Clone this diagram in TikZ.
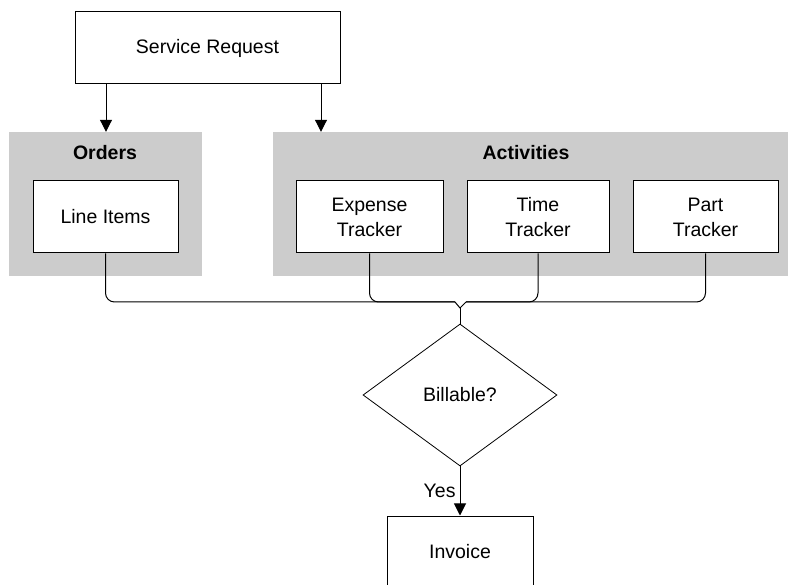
\documentclass[tikz,border=0pt]{standalone}
\usepackage{fontspec}
\setmainfont{Liberation Sans}
\usetikzlibrary{shapes.geometric,arrows.meta}
\definecolor{panelgray}{RGB}{204,204,204}
\tikzset{
  box/.style={draw=black,line width=1pt,fill=white,rectangle,inner sep=0pt,
    minimum height=72pt,align=center,font=\fontsize{19.5}{25}\selectfont},
  panel/.style={fill=panelgray,draw=none,rectangle,inner sep=0pt},
  paneltitle/.style={font=\fontsize{19.5}{25}\selectfont\bfseries,inner sep=0pt},
  decision/.style={draw=black,line width=0.8pt,diamond,inner sep=0pt,
    minimum width=194pt,minimum height=142pt,font=\fontsize{19.5}{25}\selectfont},
  link/.style={draw=black,line width=1pt},
  arr/.style={link,-{Triangle[length=12pt,width=12pt]}},
  bracelink/.style={link,rounded corners=9pt}
}
\begin{document}
\begin{tikzpicture}[x=1pt,y=-1pt]
\useasboundingbox (0,0) rectangle (788,585);
\clip (0,0) rectangle (788,585);

% grouping panels
\node[panel,minimum width=193pt,minimum height=144pt] (ord) at (105.5,204) {};
\node[panel,minimum width=515pt,minimum height=144pt] (act) at (530.5,204) {};
\node[paneltitle] (ordtitle) at (105,153) {Orders};
\node[paneltitle] (acttitle) at (526,153) {Activities};

% boxes
\node[box,minimum width=265pt] (sr) at (207.5,48) {Service Request};
\node[box,minimum width=145pt] (li) at (105.5,217) {Line Items};
\node[box,minimum width=147pt] (et) at (369.5,217) {Expense\\Tracker};
\node[box,minimum width=142pt] (tt) at (538,217) {Time\\Tracker};
\node[box,minimum width=145pt] (pt) at (705.5,217) {Part\\Tracker};
\node[decision] (bill) at (460,395) {Billable?};
\node[box,minimum width=146pt] (inv) at (460,552) {Invoice};

% request feeds both groups
\draw[arr] ([xshift=-101.5pt]sr.south) -- ([xshift=-101.5pt]sr.south |- ord.north);
\draw[arr] ([xshift=113.5pt]sr.south) -- ([xshift=113.5pt]sr.south |- act.north);

% brace gathering the trackers into the decision
\coordinate (bl) at (455,302);
\coordinate (br) at (466,302);
\coordinate (tip) at (460,308);
\draw[bracelink] (li.south) |- (bl);
\draw[bracelink] (et.south) |- (bl);
\draw[bracelink] (tt.south) |- (br);
\draw[bracelink] (pt.south) |- (br);
\draw[link] (bl) -- (tip) -- (br);
\draw[link] (tip) -- (bill.north);

% decision outcome
\draw[arr] (bill.south) -- node[left,inner sep=4pt,font=\fontsize{19.5}{25}\selectfont] {Yes} (inv.north);
\end{tikzpicture}
\end{document}
